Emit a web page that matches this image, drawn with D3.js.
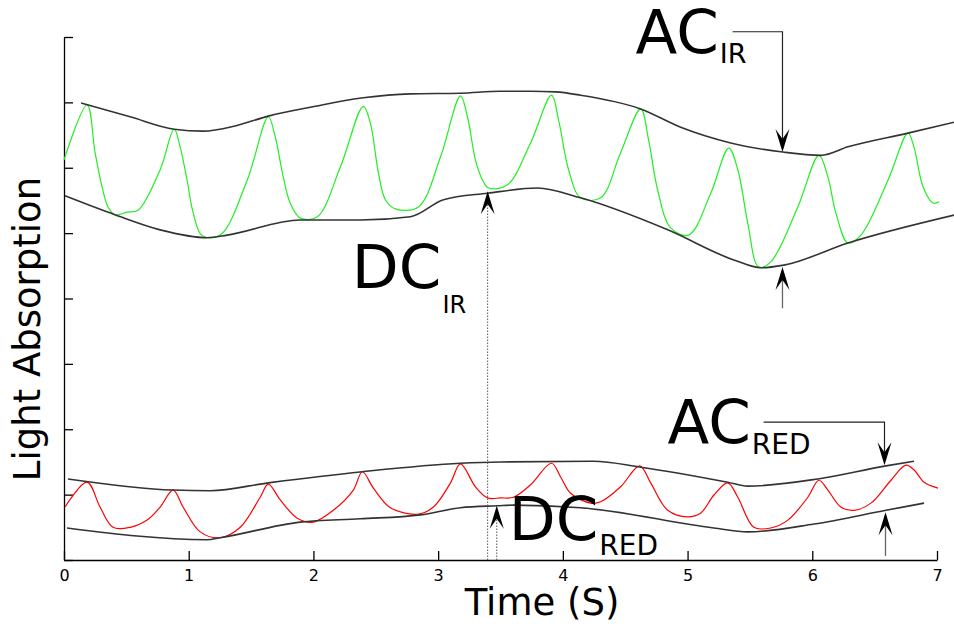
<!DOCTYPE html>
<html>
<head>
<meta charset="utf-8">
<script src="https://cdn.jsdelivr.net/npm/d3@7.9.0/dist/d3.min.js"></script>
<style>
  html, body { margin: 0; padding: 0; background: #fff; }
  svg { display: block; font-family: 'DejaVu Sans', sans-serif; }
</style>
</head>
<body>
<div id="chart"></div>
<script>
// time (s) and absorption values
const irSignal = [
  [0, 6.12], [0.185, 6.96], [0.249, 6.23], [0.305, 5.71], [0.353, 5.40], [0.409, 5.28],
  [0.506, 5.32], [0.594, 5.35], [0.771, 5.97], [0.883, 6.59], [0.931, 6.32], [0.987, 5.81],
  [1.036, 5.31], [1.108, 4.96], [1.252, 4.97], [1.469, 5.81], [1.638, 6.78], [1.694, 6.47],
  [1.758, 5.86], [1.814, 5.46], [1.895, 5.23], [2.031, 5.25], [2.216, 6.01], [2.400, 6.94],
  [2.457, 6.68], [2.521, 5.92], [2.577, 5.51], [2.657, 5.37], [2.842, 5.40], [3.018, 6.16],
  [3.179, 7.10], [3.235, 6.78], [3.299, 6.12], [3.356, 5.81], [3.404, 5.69], [3.556, 5.74],
  [3.741, 6.38], [3.909, 7.11], [3.966, 6.73], [4.046, 5.97], [4.142, 5.54], [4.303, 5.54],
  [4.463, 6.23], [4.624, 6.90], [4.688, 6.42], [4.760, 5.66], [4.865, 5.08], [5.009, 4.97],
  [5.186, 5.61], [5.330, 6.30], [5.403, 5.97], [5.483, 5.15], [5.571, 4.48], [5.667, 4.56],
  [5.884, 5.40], [6.053, 6.19], [6.125, 5.86], [6.189, 5.31], [6.286, 4.85], [6.390, 4.97],
  [6.607, 5.81], [6.767, 6.53], [6.815, 6.32], [6.888, 5.71], [6.968, 5.46], [7.016, 5.48]
];

const irUpper = [
  [0.137, 6.99], [0.530, 6.78], [0.883, 6.59], [1.116, 6.56], [1.373, 6.64], [1.638, 6.79],
  [2.015, 6.94], [2.400, 7.07], [2.778, 7.13], [3.179, 7.14], [3.500, 7.17], [3.741, 7.17],
  [3.942, 7.16], [4.142, 7.11], [4.624, 6.90], [4.945, 6.62], [5.346, 6.38], [5.764, 6.24],
  [6.069, 6.19], [6.286, 6.32], [6.767, 6.53], [7.145, 6.70]
];

const irLower = [
  [0.008, 5.57], [0.409, 5.28], [0.771, 5.05], [1.148, 4.93], [1.309, 4.97], [1.895, 5.20],
  [2.376, 5.20], [2.778, 5.25], [3.043, 5.51], [3.396, 5.61], [3.797, 5.69], [4.142, 5.54],
  [4.841, 5.05], [5.371, 4.59], [5.589, 4.47], [5.772, 4.51], [6.286, 4.85], [7.145, 5.28]
];

const redSignal = [
  [0.008, 0.81], [0.185, 1.19], [0.289, 0.81], [0.393, 0.50], [0.530, 0.50], [0.666, 0.61],
  [0.771, 0.81], [0.875, 1.07], [0.955, 0.81], [1.092, 0.43], [1.252, 0.34], [1.413, 0.50],
  [1.573, 0.96], [1.638, 1.16], [1.734, 0.92], [1.870, 0.64], [1.999, 0.58], [2.159, 0.76],
  [2.320, 1.07], [2.392, 1.35], [2.481, 1.10], [2.617, 0.80], [2.834, 0.70], [2.962, 0.81],
  [3.099, 1.18], [3.179, 1.47], [3.299, 1.12], [3.396, 0.95], [3.500, 0.95], [3.604, 0.96],
  [3.741, 1.15], [3.909, 1.48], [3.982, 1.27], [4.062, 1.02], [4.223, 0.87], [4.303, 0.89],
  [4.463, 1.12], [4.616, 1.44], [4.704, 1.18], [4.841, 0.76], [5.001, 0.66], [5.106, 0.72],
  [5.210, 0.99], [5.322, 1.18], [5.403, 0.96], [5.531, 0.50], [5.667, 0.49], [5.804, 0.61],
  [5.964, 0.96], [6.053, 1.22], [6.125, 1.07], [6.229, 0.81], [6.334, 0.76], [6.470, 0.87],
  [6.631, 1.22], [6.751, 1.45], [6.815, 1.38], [6.896, 1.19], [7.008, 1.10]
];

const redUpper = [
  [0.032, 1.24], [0.875, 1.07], [1.172, 1.06], [1.638, 1.18], [2.392, 1.35], [3.179, 1.48],
  [3.500, 1.50], [4.247, 1.51], [4.624, 1.42], [5.322, 1.19], [5.483, 1.13], [6.045, 1.24],
  [6.591, 1.44], [6.815, 1.51]
];

const redLower = [
  [0.024, 0.49], [1.148, 0.31], [1.252, 0.34], [1.895, 0.58], [2.376, 0.63], [2.858, 0.69],
  [3.179, 0.80], [3.476, 0.83], [3.604, 0.84], [4.142, 0.80], [5.210, 0.49], [5.483, 0.43],
  [6.013, 0.55], [6.591, 0.76], [6.896, 0.87]
];

const xTicks = [0, 1, 2, 3, 4, 5, 6, 7];
const yTicks = [0, 1, 2, 3, 4, 5, 6, 7, 8];

// labels: position of text start and baseline, subscript, its size and drop
const labels = [
  { main: 'AC', sub: 'IR', t: 4.583, v: 7.755, subSize: 27, drop: 10 },
  { main: 'DC', sub: 'IR', t: 2.308, v: 4.16, subSize: 24, drop: 25 },
  { main: 'AC', sub: 'RED', t: 4.840, v: 1.79, subSize: 28, drop: 11 },
  { main: 'DC', sub: 'RED', t: 3.566, v: 0.31, subSize: 28, drop: 15 }
];

// bracket lines ending in a down arrow (AC markers)
const brackets = [
  { t0: 5.361, t1: 5.761, vTop: 8.08, vTip: 6.24 },
  { t0: 5.609, t1: 6.579, vTop: 2.11, vTip: 1.45 }
];

// up arrows: solid stems under the lower envelopes, dotted from the axis (DC markers)
const upArrows = [
  { t: 5.761, vFrom: 3.85, vTip: 4.48, dotted: false },
  { t: 6.587, vFrom: 0.06, vTip: 0.73, dotted: false },
  { t: 3.397, vFrom: 0, vTip: 5.64, dotted: true },
  { t: 3.470, vFrom: 0, vTip: 0.83, dotted: true }
];

const width = 954;
const height = 626;
const margin = { top: 37, right: 17, bottom: 66, left: 64 };

const svg = d3.select('#chart')
  .append('svg')
  .attr('width', width)
  .attr('height', height);

const x = d3.scaleLinear()
  .domain([0, 7])
  .range([margin.left, width - margin.right]);

const y = d3.scaleLinear()
  .domain([0, 8])
  .range([height - margin.bottom, margin.top]);

const envelopeLine = d3.line()
  .x(d => x(d[0]))
  .y(d => y(d[1]))
  .curve(d3.curveMonotoneX);

const signalLine = d3.line()
  .x(d => x(d[0]))
  .y(d => y(d[1]))
  .curve(d3.curveCatmullRom.alpha(0.5));

// axes, ticks pointing inward
const xAxis = svg.append('g')
  .attr('transform', `translate(0,${y(0)})`)
  .call(d3.axisBottom(x).tickValues(xTicks).tickSizeInner(-9).tickSizeOuter(0).tickPadding(10).tickFormat(d3.format('d')));

const yAxis = svg.append('g')
  .attr('transform', `translate(${x(0)},0)`)
  .call(d3.axisLeft(y).tickValues(yTicks).tickSizeInner(-9).tickSizeOuter(0).tickFormat(''));

[xAxis, yAxis].forEach(g => {
  g.selectAll('path, line').attr('stroke', '#000').attr('stroke-width', 1.3);
  g.selectAll('text').attr('font-family', 'DejaVu Sans').attr('font-size', 16).attr('fill', '#000');
});

svg.append('text')
  .attr('x', 542)
  .attr('y', 615)
  .attr('text-anchor', 'middle')
  .attr('font-size', 37)
  .text('Time (S)');

svg.append('text')
  .attr('transform', 'translate(40,329) rotate(-90)')
  .attr('text-anchor', 'middle')
  .attr('font-size', 37)
  .text('Light Absorption');

// signals and envelopes
[[irSignal, '#22ee22', 1.2, signalLine], [redSignal, '#ff0000', 1.2, signalLine],
 [irUpper, '#333', 1.6, envelopeLine], [irLower, '#333', 1.6, envelopeLine],
 [redUpper, '#333', 1.6, envelopeLine], [redLower, '#333', 1.6, envelopeLine]].forEach(([data, color, w, gen]) => {
  svg.append('path')
    .datum(data)
    .attr('fill', 'none')
    .attr('stroke', color)
    .attr('stroke-width', w)
    .attr('stroke-linejoin', 'round')
    .attr('d', gen);
});

// arrowhead with its tip at (px, py); dir 1 = pointing down, -1 = up
function arrowHead(px, py, dir) {
  svg.append('path')
    .attr('transform', `translate(${px},${py}) scale(1,${dir})`)
    .attr('d', 'M0,0 L-7,-23 L0,-13 L7,-23 Z')
    .attr('fill', '#000');
}

brackets.forEach(b => {
  svg.append('path')
    .attr('d', `M${x(b.t0)},${y(b.vTop)} H${x(b.t1)} V${y(b.vTip) - 4}`)
    .attr('fill', 'none')
    .attr('stroke', '#222')
    .attr('stroke-width', 1.2);
  arrowHead(x(b.t1), y(b.vTip), 1);
});

upArrows.forEach(a => {
  svg.append('line')
    .attr('x1', x(a.t)).attr('x2', x(a.t))
    .attr('y1', y(a.vFrom)).attr('y2', y(a.vTip) + 4)
    .attr('stroke', a.dotted ? '#555' : '#666')
    .attr('stroke-width', a.dotted ? 1 : 1.3)
    .attr('stroke-dasharray', a.dotted ? '1.5,1.5' : null);
  arrowHead(x(a.t), y(a.vTip), -1);
});

labels.forEach(l => {
  const txt = svg.append('text')
    .attr('x', x(l.t))
    .attr('y', y(l.v))
    .attr('font-size', 61)
    .attr('fill', '#000')
    .text(l.main);
  txt.append('tspan')
    .attr('dx', 1)
    .attr('dy', l.drop)
    .attr('font-size', l.subSize)
    .text(l.sub);
});
</script>
</body>
</html>
